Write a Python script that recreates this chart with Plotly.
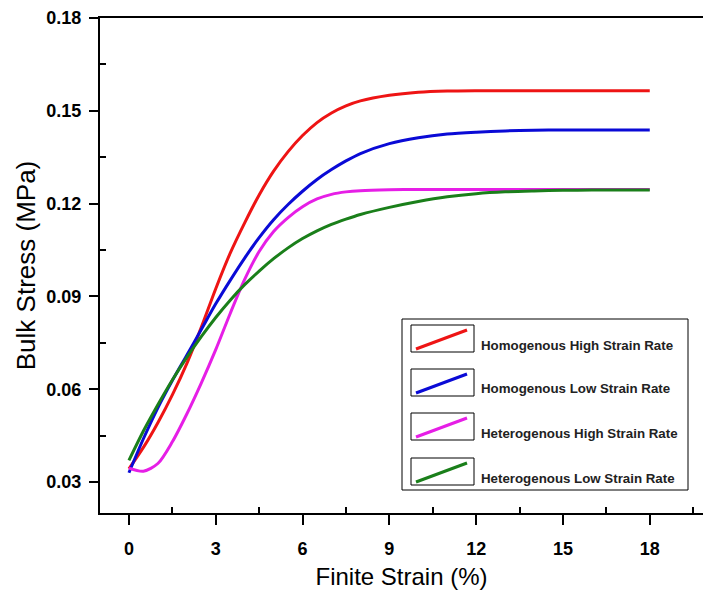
import plotly.graph_objects as go

# ---- data ----
strain = [0, 0.5, 1, 1.5, 2, 2.5, 3, 3.5, 4, 4.5, 5, 5.5, 6, 6.5, 7, 7.5, 8,
          9, 10, 11, 12, 13, 14, 15, 16, 17, 18]

homo_high = [0.0343, 0.0412, 0.0492, 0.0582, 0.0683, 0.0800, 0.0925, 0.1040, 0.1138,
             0.1228, 0.1305, 0.1368, 0.1420, 0.1462, 0.1493, 0.1516, 0.1532,
             0.1550, 0.1560, 0.1564, 0.1565, 0.1565, 0.1565, 0.1565, 0.1565, 0.1565, 0.1565]

homo_low = [0.0330, 0.0440, 0.0540, 0.0628, 0.0710, 0.0793, 0.0876, 0.0952, 0.1024,
            0.1090, 0.1148, 0.1197, 0.1240, 0.1278, 0.1310, 0.1338, 0.1362,
            0.1394, 0.1413, 0.1425, 0.1431, 0.1435, 0.1437, 0.1438, 0.1438, 0.1438, 0.1438]

hetero_high = [0.0345, 0.0335, 0.0360, 0.0430, 0.0520, 0.0620, 0.0728, 0.0845, 0.0955,
               0.1045, 0.1110, 0.1155, 0.1190, 0.1215, 0.1230, 0.1238, 0.1242,
               0.1245, 0.1246, 0.1246, 0.1246, 0.1246, 0.1246, 0.1246, 0.1246, 0.1246, 0.1246]

hetero_low = [0.0370, 0.0465, 0.0550, 0.0630, 0.0703, 0.0770, 0.0832, 0.0888, 0.0938,
              0.0982, 0.1022, 0.1057, 0.1087, 0.1112, 0.1133, 0.1150, 0.1165,
              0.1188, 0.1207, 0.1222, 0.1232, 0.1238, 0.1241, 0.1243, 0.1244, 0.1244, 0.1244]

series_names = ["Homogenous High Strain Rate", "Homogenous Low Strain Rate",
                "Heterogenous High Strain Rate", "Heterogenous Low Strain Rate"]
series_values = [homo_high, homo_low, hetero_high, hetero_low]
series_colors = ["#ee1414", "#0a0ad6", "#e61ee6", "#1a7f1a"]

x_ticks = [0, 3, 6, 9, 12, 15, 18]
y_ticks = [0.03, 0.06, 0.09, 0.12, 0.15, 0.18]

FONT = "Arial, 'Liberation Sans', sans-serif"
W, H = 703, 590
ML, MR, MT, MB = 100, 0, 18, 77

fig = go.Figure()
for name, vals, col in zip(series_names, series_values, series_colors):
    fig.add_trace(go.Scatter(x=strain, y=vals, name=name, mode="lines",
                             line=dict(color=col, width=3, shape="spline", smoothing=0.8),
                             showlegend=False))

# ---- custom legend (boxed line samples like the reference) ----
pw, ph = W - ML - MR, H - MT - MB


def px_x(v):
    return (v - ML) / pw


def px_y(v):
    return (H - MB - v) / ph


shapes = [dict(type="rect", xref="paper", yref="paper",
               x0=px_x(402), x1=px_x(688), y0=px_y(490), y1=px_y(319),
               line=dict(color="black", width=1), fillcolor="white", layer="above")]
annotations = []
box_tops = [325, 369, 413, 458]
for top, name, col in zip(box_tops, series_names, series_colors):
    shapes.append(dict(type="rect", xref="paper", yref="paper",
                       x0=px_x(411), x1=px_x(474), y0=px_y(top + 27), y1=px_y(top),
                       line=dict(color="black", width=1), fillcolor="white", layer="above"))
    shapes.append(dict(type="line", xref="paper", yref="paper",
                       x0=px_x(416), x1=px_x(467), y0=px_y(top + 24), y1=px_y(top + 5),
                       line=dict(color=col, width=3), layer="above"))
    annotations.append(dict(xref="paper", yref="paper", x=px_x(479), y=px_y(top + 20),
                            xanchor="left", yanchor="middle", showarrow=False,
                            text="<b>" + name + "</b>",
                            font=dict(family=FONT, size=13.3, color="#222")))

fig.update_layout(
    width=W, height=H,
    margin=dict(l=ML, r=MR, t=MT, b=MB),
    paper_bgcolor="white", plot_bgcolor="white",
    shapes=shapes, annotations=annotations,
    font=dict(family=FONT, color="black"),
)

fig.update_xaxes(
    range=[-1.0, 19.84], tickvals=x_ticks, ticktext=[str(t) for t in x_ticks],
    showgrid=False, zeroline=False,
    showline=True, linecolor="black", linewidth=2, mirror=True,
    ticks="outside", ticklen=10, tickwidth=2, tickcolor="black",
    ticklabelstandoff=8,
    tickfont=dict(family=FONT, size=18, color="black", weight="bold"),
    minor=dict(tick0=1.5, dtick=3, ticks="inside", ticklen=6, tickwidth=2, tickcolor="black", showgrid=False),
    title=dict(text="Finite Strain (%)", font=dict(family=FONT, size=24, color="black"), standoff=16),
)
fig.update_yaxes(
    range=[0.02, 0.18], tickvals=y_ticks, ticktext=["%.2f" % t for t in y_ticks],
    showgrid=False, zeroline=False,
    showline=True, linecolor="black", linewidth=2, mirror=False,
    ticks="outside", ticklen=9, tickwidth=2, tickcolor="black",
    ticklabelstandoff=4,
    tickfont=dict(family=FONT, size=18, color="black", weight="bold"),
    minor=dict(tick0=0.015, dtick=0.03, ticks="inside", ticklen=6, tickwidth=2, tickcolor="black", showgrid=False),
    title=dict(text="Bulk Stress (MPa)", font=dict(family=FONT, size=26, color="black"), standoff=3),
)

fig.write_html("out.html")
